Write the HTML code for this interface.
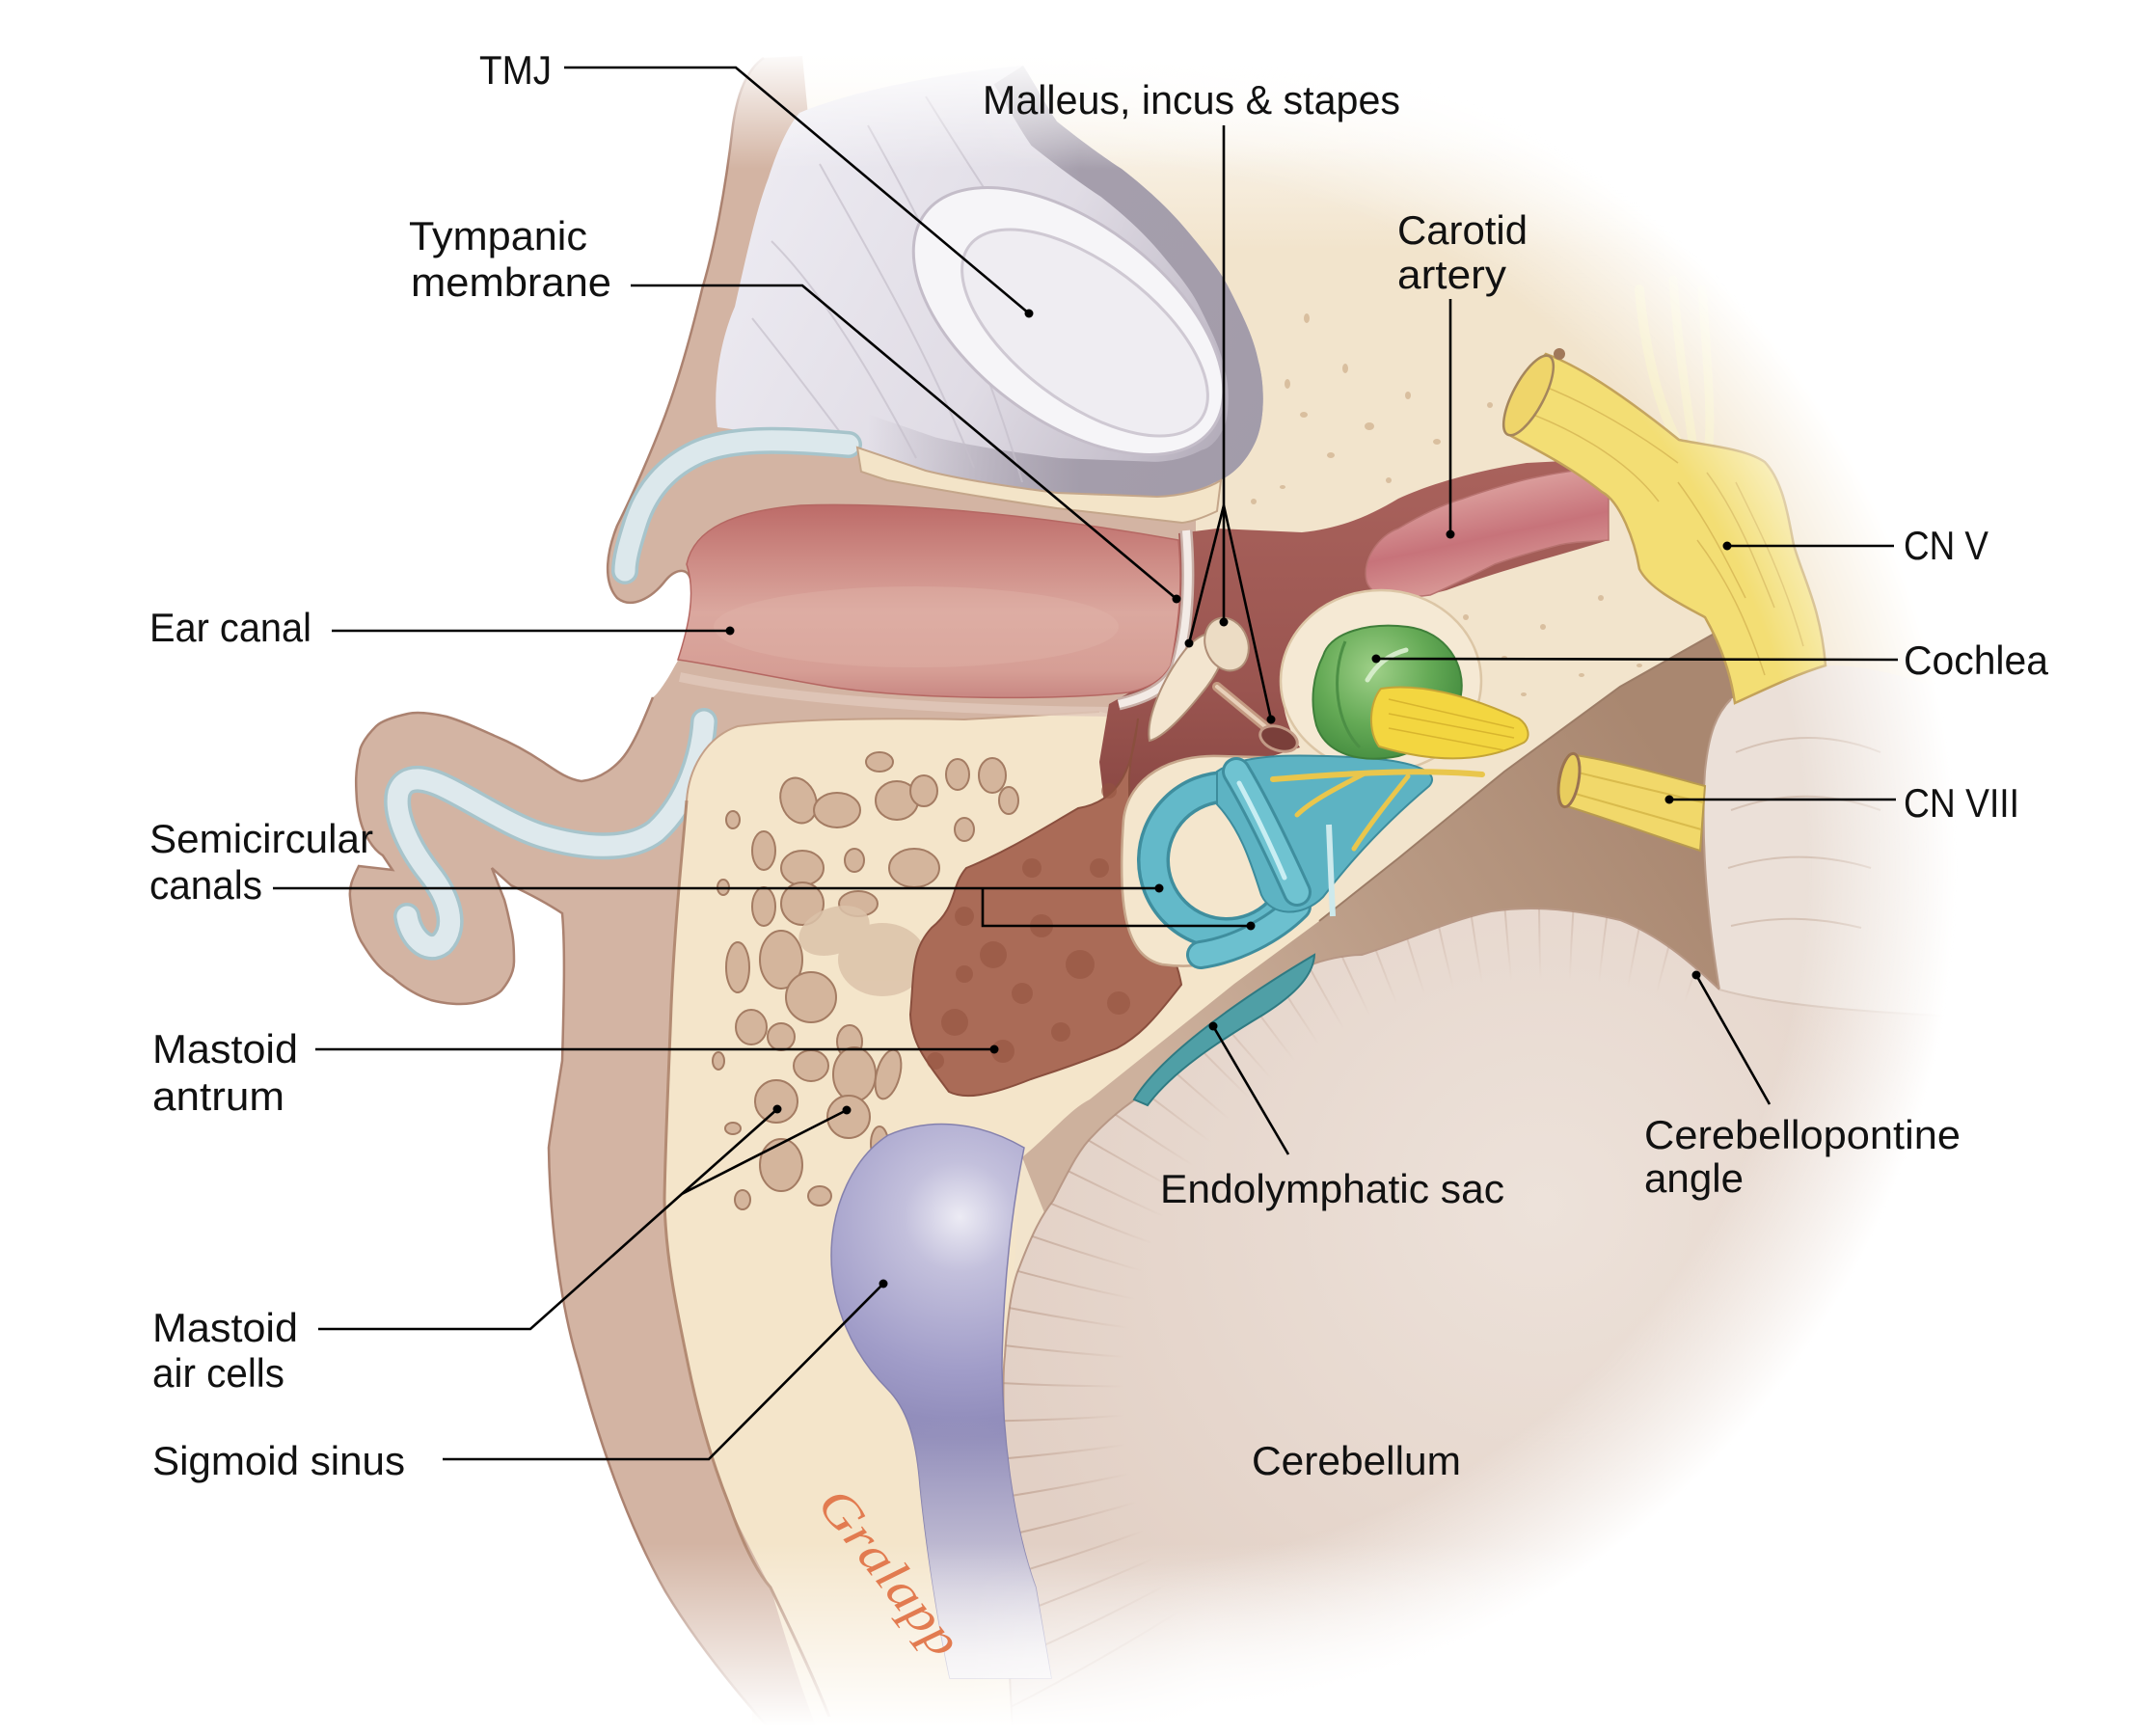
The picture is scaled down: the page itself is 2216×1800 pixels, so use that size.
<!DOCTYPE html>
<html>
<head>
<meta charset="utf-8">
<style>
html,body{margin:0;padding:0;background:#ffffff;}
svg{display:block;}
.lbl{font-family:"Liberation Sans",Arial,sans-serif;font-size:42px;fill:#111111;}
</style>
</head>
<body>
<svg width="2216" height="1800" viewBox="0 0 2216 1800" xmlns="http://www.w3.org/2000/svg">
<defs>
  <linearGradient id="creamG" gradientUnits="userSpaceOnUse" x1="0" y1="40" x2="0" y2="260">
    <stop offset="0" stop-color="#ffffff"/>
    <stop offset="1" stop-color="#f2e4cc"/>
  </linearGradient>
  <linearGradient id="grayG" gradientUnits="userSpaceOnUse" x1="780" y1="200" x2="1300" y2="480">
    <stop offset="0" stop-color="#eceaf1"/>
    <stop offset="0.5" stop-color="#e0dce5"/>
    <stop offset="0.8" stop-color="#c6c0cc"/>
    <stop offset="1" stop-color="#a9a2b0"/>
  </linearGradient>
  <linearGradient id="rimG" gradientUnits="userSpaceOnUse" x1="900" y1="0" x2="1120" y2="0">
    <stop offset="0" stop-color="#a29ba9" stop-opacity="0"/>
    <stop offset="1" stop-color="#a29ba9" stop-opacity="0.95"/>
  </linearGradient>
  <clipPath id="grayClip">
    <path d="M 744 443 C 738 400, 748 350, 762 318 C 775 260, 785 215, 797 184 C 808 150, 818 130, 829 117 C 880 95, 980 75, 1061 68 C 1075 90, 1085 110, 1096 126 C 1120 145, 1140 160, 1163 175 C 1195 200, 1215 220, 1230 238 C 1250 262, 1265 280, 1275 300 C 1290 330, 1300 350, 1305 375 C 1312 400, 1312 440, 1300 462 C 1290 482, 1275 495, 1260 500 C 1240 510, 1220 514, 1200 515 L 1096 511 C 1050 505, 1000 498, 960 488 L 887 463 Z"/>
  </clipPath>
  <linearGradient id="canalG" gradientUnits="userSpaceOnUse" x1="0" y1="525" x2="0" y2="726">
    <stop offset="0" stop-color="#bd6c69"/>
    <stop offset="0.25" stop-color="#cc8882"/>
    <stop offset="0.55" stop-color="#dba89f"/>
    <stop offset="0.85" stop-color="#d69e95"/>
    <stop offset="1" stop-color="#c78581"/>
  </linearGradient>
  <linearGradient id="meG" gradientUnits="userSpaceOnUse" x1="0" y1="480" x2="0" y2="870">
    <stop offset="0" stop-color="#a9625c"/>
    <stop offset="0.6" stop-color="#9a5550"/>
    <stop offset="1" stop-color="#864440"/>
  </linearGradient>
  <linearGradient id="carG" gradientUnits="userSpaceOnUse" x1="1500" y1="505" x2="1525" y2="622">
    <stop offset="0" stop-color="#dea4a1"/>
    <stop offset="0.5" stop-color="#c7737a"/>
    <stop offset="1" stop-color="#dda29d"/>
  </linearGradient>
  <linearGradient id="duraG" gradientUnits="userSpaceOnUse" x1="1200" y1="1120" x2="1720" y2="780">
    <stop offset="0" stop-color="#cdb19d"/>
    <stop offset="0.5" stop-color="#b99a84"/>
    <stop offset="1" stop-color="#a98770"/>
  </linearGradient>
  <radialGradient id="sinusG" gradientUnits="userSpaceOnUse" cx="995" cy="1262" r="230">
    <stop offset="0" stop-color="#ecebf4"/>
    <stop offset="0.25" stop-color="#c3c0dc"/>
    <stop offset="0.7" stop-color="#a09cc8"/>
    <stop offset="1" stop-color="#8d89b8"/>
  </radialGradient>
  <linearGradient id="sinusFade" gradientUnits="userSpaceOnUse" x1="0" y1="1470" x2="0" y2="1720">
    <stop offset="0" stop-color="#f1ecec" stop-opacity="0"/>
    <stop offset="1" stop-color="#f1ecec" stop-opacity="0.9"/>
  </linearGradient>
  <clipPath id="sinusClip">
    <path d="M 921 1177 C 960 1160, 1010 1160, 1062 1190 C 1050 1250, 1040 1330, 1039 1417 C 1040 1490, 1050 1580, 1074 1646 L 1090 1740 L 985 1740 C 972 1680, 960 1600, 954 1540 C 950 1490, 940 1460, 920 1440 C 885 1405, 862 1355, 862 1302 C 862 1250, 885 1200, 921 1177 Z"/>
  </clipPath>
  <radialGradient id="cochG" gradientUnits="userSpaceOnUse" cx="1425" cy="695" r="95">
    <stop offset="0" stop-color="#9fd088"/>
    <stop offset="0.6" stop-color="#65aa56"/>
    <stop offset="1" stop-color="#478f41"/>
  </radialGradient>
  <radialGradient id="cereG" gradientUnits="userSpaceOnUse" cx="1600" cy="1250" r="600">
    <stop offset="0" stop-color="#ede2da"/>
    <stop offset="1" stop-color="#e2d0c5"/>
  </radialGradient>
  <radialGradient id="rayG" gradientUnits="userSpaceOnUse" cx="0" cy="0" r="640">
    <stop offset="0.68" stop-color="#b08c79" stop-opacity="0"/>
    <stop offset="0.86" stop-color="#b08c79" stop-opacity="0.5"/>
    <stop offset="1" stop-color="#a8826e" stop-opacity="0.65"/>
  </radialGradient>
  <clipPath id="cereClip">
    <path d="M 1050 1795 C 1045 1700, 1040 1600, 1042 1520 C 1040 1460, 1040 1420, 1042 1406 C 1045 1360, 1050 1330, 1057 1314 C 1070 1280, 1080 1260, 1092 1245 C 1110 1210, 1120 1190, 1134 1177 C 1150 1160, 1165 1148, 1180 1138 C 1220 1110, 1250 1085, 1279 1066 C 1310 1040, 1335 1015, 1363 999 C 1380 993, 1400 990, 1412 990 C 1460 975, 1500 955, 1546 945 C 1580 940, 1620 940, 1680 954 C 1720 970, 1750 995, 1783 1026 L 1800 1040 L 2216 1060 L 2216 1795 Z"/>
  </clipPath>
  <radialGradient id="fadeR" gradientUnits="userSpaceOnUse" cx="1150" cy="900" r="880">
    <stop offset="0.82" stop-color="#ffffff" stop-opacity="0"/>
    <stop offset="1" stop-color="#ffffff" stop-opacity="1"/>
  </radialGradient>
  <linearGradient id="rampX" gradientUnits="userSpaceOnUse" x1="1000" y1="0" x2="1250" y2="0">
    <stop offset="0" stop-color="#000000"/>
    <stop offset="1" stop-color="#ffffff"/>
  </linearGradient>
  <mask id="rampMask" maskUnits="userSpaceOnUse" x="0" y="0" width="2216" height="1800">
    <rect x="0" y="0" width="2216" height="1800" fill="url(#rampX)"/>
  </mask>
  <linearGradient id="fadeB" gradientUnits="userSpaceOnUse" x1="0" y1="1600" x2="0" y2="1790">
    <stop offset="0" stop-color="#ffffff" stop-opacity="0"/>
    <stop offset="1" stop-color="#ffffff" stop-opacity="1"/>
  </linearGradient>
  <linearGradient id="fadeT" gradientUnits="userSpaceOnUse" x1="0" y1="50" x2="0" y2="175">
    <stop offset="0" stop-color="#ffffff" stop-opacity="1"/>
    <stop offset="1" stop-color="#ffffff" stop-opacity="0"/>
  </linearGradient>
</defs>

<!-- base cream -->
<rect x="780" y="30" width="1436" height="1770" fill="url(#creamG)"/>

<!-- stipple on cream -->
<g fill="#d9bf9f">
  <ellipse cx="1335" cy="398" rx="3" ry="5"/><ellipse cx="1352" cy="430" rx="4" ry="3"/>
  <ellipse cx="1395" cy="382" rx="3" ry="5"/><ellipse cx="1420" cy="442" rx="5" ry="4"/>
  <ellipse cx="1460" cy="410" rx="3" ry="4"/><ellipse cx="1490" cy="458" rx="4" ry="3"/>
  <ellipse cx="1545" cy="420" rx="3" ry="3"/><ellipse cx="1355" cy="330" rx="3" ry="5"/>
  <ellipse cx="1440" cy="498" rx="3" ry="3"/><ellipse cx="1380" cy="472" rx="4" ry="3"/>
  <ellipse cx="1300" cy="520" rx="3" ry="3"/><ellipse cx="1330" cy="505" rx="3" ry="2"/>
  <ellipse cx="1480" cy="662" rx="3" ry="2"/><ellipse cx="1520" cy="640" rx="3" ry="3"/>
  <ellipse cx="1560" cy="682" rx="3" ry="2"/><ellipse cx="1600" cy="650" rx="3" ry="3"/>
  <ellipse cx="1640" cy="700" rx="3" ry="2"/><ellipse cx="1620" cy="760" rx="2" ry="3"/>
  <ellipse cx="1580" cy="720" rx="3" ry="2"/><ellipse cx="1700" cy="690" rx="3" ry="2"/>
  <ellipse cx="1660" cy="620" rx="3" ry="3"/><ellipse cx="1540" cy="740" rx="3" ry="2"/>
</g>

<!-- skin / soft tissue -->
<path fill="#d3b4a3" d="M 832 58 L 792 60 C 775 72, 765 95, 760 130 C 752 200, 740 260, 728 300 C 716 350, 704 392, 690 430 C 675 470, 655 515, 640 545 C 630 570, 624 602, 640 620 C 655 632, 676 620, 690 602 C 700 590, 712 588, 716 600 C 722 630, 716 665, 700 690 C 692 705, 682 720, 677 723 C 668 745, 660 765, 650 780 C 640 795, 622 808, 603 810 C 588 808, 575 798, 563 790 C 545 778, 530 770, 513 763 C 495 755, 480 748, 463 743 C 445 739, 432 738, 423 740 C 405 744, 395 748, 390 753 C 378 765, 373 775, 373 780 C 368 800, 369 815, 370 830 C 372 850, 376 860, 380 867 C 386 878, 392 884, 397 887 L 407 902 L 372 898 C 365 912, 362 920, 363 930 C 365 955, 370 970, 377 980 C 388 998, 398 1008, 407 1013 C 420 1025, 435 1033, 447 1037 C 462 1041, 478 1042, 490 1040 C 505 1037, 515 1032, 520 1027 C 530 1015, 533 1005, 533 997 C 533 980, 532 970, 530 963 C 527 948, 525 940, 523 933 L 510 900 L 530 918 C 545 925, 565 935, 583 947 C 586 980, 585 1030, 583 1100 C 575 1150, 570 1180, 569 1190 C 570 1260, 580 1350, 600 1415 C 620 1490, 650 1580, 690 1650 C 720 1700, 760 1750, 800 1795 L 960 1795 L 960 760 L 1240 760 L 1240 465 L 900 465 L 838 120 Z"/>
<path fill="none" stroke="#ab8270" stroke-width="2.5" d="M 792 60 C 775 72, 765 95, 760 130 C 752 200, 740 260, 728 300 C 716 350, 704 392, 690 430 C 675 470, 655 515, 640 545 C 630 570, 624 602, 640 620 C 655 632, 676 620, 690 602 C 700 590, 712 588, 716 600 M 677 723 C 668 745, 660 765, 650 780 C 640 795, 622 808, 603 810 C 588 808, 575 798, 563 790 C 545 778, 530 770, 513 763 C 495 755, 480 748, 463 743 C 445 739, 432 738, 423 740 C 405 744, 395 748, 390 753 C 378 765, 373 775, 373 780 C 368 800, 369 815, 370 830 C 372 850, 376 860, 380 867 C 386 878, 392 884, 397 887 L 407 902 L 372 898 C 365 912, 362 920, 363 930 C 365 955, 370 970, 377 980 C 388 998, 398 1008, 407 1013 C 420 1025, 435 1033, 447 1037 C 462 1041, 478 1042, 490 1040 C 505 1037, 515 1032, 520 1027 C 530 1015, 533 1005, 533 997 C 533 980, 532 970, 530 963 C 527 948, 525 940, 523 933 L 510 900 L 530 918 C 545 925, 565 935, 583 947 C 586 980, 585 1030, 583 1100 C 575 1150, 570 1180, 569 1190 C 570 1260, 580 1350, 600 1415 C 620 1490, 650 1580, 690 1650 C 720 1700, 760 1750, 800 1795"/>

<!-- lobe cartilage -->
<path fill="none" stroke="#a7c4cb" stroke-width="28" stroke-linecap="round" stroke-linejoin="round" d="M 730 748 C 728 780, 715 830, 680 862 C 650 885, 600 878, 563 867 C 530 857, 490 830, 463 817 C 445 808, 420 800, 413 822 C 408 845, 425 880, 445 905 C 465 930, 475 960, 458 978 C 442 990, 425 970, 422 950"/>
<path fill="none" stroke="#dee9ed" stroke-width="21" stroke-linecap="round" stroke-linejoin="round" d="M 730 748 C 728 780, 715 830, 680 862 C 650 885, 600 878, 563 867 C 530 857, 490 830, 463 817 C 445 808, 420 800, 413 822 C 408 845, 425 880, 445 905 C 465 930, 475 960, 458 978 C 442 990, 425 970, 422 950"/>

<!-- TMJ gray region -->
<path fill="url(#grayG)" d="M 744 443 C 738 400, 748 350, 762 318 C 775 260, 785 215, 797 184 C 808 150, 818 130, 829 117 C 880 95, 980 75, 1061 68 C 1075 90, 1085 110, 1096 126 C 1120 145, 1140 160, 1163 175 C 1195 200, 1215 220, 1230 238 C 1250 262, 1265 280, 1275 300 C 1290 330, 1300 350, 1305 375 C 1312 400, 1312 440, 1300 462 C 1290 482, 1275 495, 1260 500 C 1240 510, 1220 514, 1200 515 L 1096 511 C 1050 505, 1000 498, 960 488 L 887 463 Z"/>
<g clip-path="url(#grayClip)">
  <path fill="none" stroke="url(#rimG)" stroke-width="72" d="M 1061 68 C 1075 90, 1085 110, 1096 126 C 1120 145, 1140 160, 1163 175 C 1195 200, 1215 220, 1230 238 C 1250 262, 1265 280, 1275 300 C 1290 330, 1300 350, 1305 375 C 1312 400, 1312 440, 1300 462 C 1290 482, 1275 495, 1260 500 C 1240 510, 1220 514, 1200 515 L 1096 511 C 1050 505, 1000 498, 960 488 L 887 463"/>
  <g fill="none" stroke="#c5bfca" stroke-width="2" opacity="0.7">
    <path d="M 800 250 C 850 300, 900 380, 950 475"/>
    <path d="M 850 170 C 900 260, 960 360, 1010 485"/>
    <path d="M 780 330 C 820 380, 850 420, 880 460"/>
    <path d="M 900 130 C 950 220, 1010 330, 1060 500"/>
    <path d="M 960 100 C 1010 180, 1060 260, 1120 330"/>
  </g>
</g>
<ellipse cx="1108" cy="333" rx="186" ry="102" transform="rotate(37 1108 333)" fill="#f6f5f8" stroke="#c4bdc9" stroke-width="3"/>
<ellipse cx="1125" cy="345" rx="150" ry="72" transform="rotate(37 1125 345)" fill="#efedf2" stroke="#cfc9d3" stroke-width="3"/>

<!-- upper cartilage -->
<path fill="none" stroke="#a7c4cb" stroke-width="28" stroke-linecap="round" d="M 880 461 C 820 456, 760 452, 722 470 C 690 485, 670 510, 660 540 C 652 565, 648 580, 648 592"/>
<path fill="none" stroke="#dce8ec" stroke-width="21" stroke-linecap="round" d="M 880 461 C 820 456, 760 452, 722 470 C 690 485, 670 510, 660 540 C 652 565, 648 580, 648 592"/>

<!-- bone strip under TMJ -->
<path fill="#f3e4c8" stroke="#c4a68a" stroke-width="2" d="M 889 464 L 960 488 C 1000 498, 1050 505, 1096 511 L 1200 515 C 1225 514, 1250 508, 1266 498 L 1262 530 C 1245 538, 1235 541, 1226 542 L 1096 527 C 1040 519, 980 509, 920 498 L 893 489 Z"/>

<!-- mastoid bone -->
<path fill="#f4e5ca" d="M 712 830 C 714 800, 730 765, 765 753 C 820 746, 900 744, 1000 746 L 1140 738 L 1200 750 L 1360 790 L 1380 960 L 1060 1200 L 1046 1400 L 1074 1646 L 1095 1800 L 850 1800 C 830 1750, 815 1700, 799 1646 C 775 1600, 760 1570, 756 1560 C 735 1500, 718 1450, 714 1417 C 700 1350, 690 1300, 689 1244 C 690 1180, 694 1100, 696 1043 C 700 950, 708 880, 712 830 Z"/>
<path fill="none" stroke="#b38b73" stroke-width="3" d="M 712 830 C 708 880, 700 950, 696 1043 C 694 1100, 690 1180, 689 1244 C 690 1300, 700 1350, 714 1417 C 725 1470, 740 1520, 756 1560 C 770 1600, 785 1630, 799 1646 C 820 1690, 840 1730, 860 1780"/>
<path fill="none" stroke="#c4a088" stroke-width="2" d="M 712 830 C 714 800, 730 765, 765 753 C 820 746, 900 744, 1000 746 L 1140 738"/>
<path fill="none" stroke="#e1c8ba" stroke-width="10" opacity="0.8" d="M 705 702 C 800 722, 950 736, 1150 738"/>

<!-- mastoid air cells -->
<g fill="#d4b59c" stroke="#a47c63" stroke-width="2">
  <ellipse cx="912" cy="790" rx="14" ry="10"/>
  <ellipse cx="828" cy="830" rx="18" ry="24" transform="rotate(-20 828 830)"/>
  <ellipse cx="868" cy="840" rx="24" ry="18"/>
  <ellipse cx="930" cy="830" rx="22" ry="20"/>
  <ellipse cx="958" cy="820" rx="14" ry="16"/>
  <ellipse cx="993" cy="803" rx="12" ry="16"/>
  <ellipse cx="1029" cy="804" rx="14" ry="18"/>
  <ellipse cx="1046" cy="830" rx="10" ry="14"/>
  <ellipse cx="792" cy="882" rx="12" ry="20"/>
  <ellipse cx="832" cy="900" rx="22" ry="18"/>
  <ellipse cx="886" cy="892" rx="10" ry="12"/>
  <ellipse cx="948" cy="900" rx="26" ry="20"/>
  <ellipse cx="792" cy="940" rx="12" ry="20"/>
  <ellipse cx="832" cy="937" rx="22" ry="22"/>
  <ellipse cx="890" cy="937" rx="20" ry="13"/>
  <ellipse cx="765" cy="1003" rx="12" ry="26"/>
  <ellipse cx="810" cy="995" rx="22" ry="30"/>
  <ellipse cx="841" cy="1034" rx="26" ry="26"/>
  <ellipse cx="779" cy="1065" rx="16" ry="18"/>
  <ellipse cx="810" cy="1075" rx="14" ry="14"/>
  <ellipse cx="881" cy="1080" rx="13" ry="17"/>
  <ellipse cx="841" cy="1105" rx="18" ry="16"/>
  <ellipse cx="886" cy="1114" rx="22" ry="28"/>
  <ellipse cx="805" cy="1142" rx="22" ry="22"/>
  <ellipse cx="921" cy="1114" rx="12" ry="26" transform="rotate(15 921 1114)"/>
  <ellipse cx="810" cy="1208" rx="22" ry="27"/>
  <ellipse cx="880" cy="1158" rx="22" ry="22"/>
  <ellipse cx="912" cy="1186" rx="9" ry="18"/>
  <ellipse cx="770" cy="1244" rx="8" ry="10"/>
  <ellipse cx="760" cy="850" rx="7" ry="9"/>
  <ellipse cx="750" cy="920" rx="6" ry="8"/>
  <ellipse cx="745" cy="1100" rx="6" ry="9"/>
  <ellipse cx="760" cy="1170" rx="8" ry="6"/>
  <ellipse cx="850" cy="1240" rx="12" ry="10"/>
  <ellipse cx="1000" cy="860" rx="10" ry="12"/>
</g>
<g fill="#dcc3aa" opacity="0.85">
  <ellipse cx="865" cy="965" rx="38" ry="24" transform="rotate(-20 865 965)"/>
  <ellipse cx="915" cy="995" rx="46" ry="38"/>
</g>

<!-- middle ear -->
<path fill="url(#meG)" d="M 1222 553 L 1262 548 L 1350 552 C 1390 548, 1420 535, 1450 517 C 1480 503, 1530 488, 1583 480 L 1662 476 L 1668 560 C 1620 575, 1560 590, 1500 612 C 1450 625, 1400 628, 1370 630 C 1350 650, 1336 680, 1330 717 C 1330 740, 1338 760, 1348 775 L 1300 790 C 1250 800, 1215 830, 1195 860 L 1150 875 L 1140 790 L 1150 730 L 1175 716 C 1195 712, 1210 705, 1214 690 C 1222 650, 1226 600, 1222 553 Z"/>

<!-- ear canal -->
<path fill="url(#canalG)" stroke="#b56762" stroke-width="1.5" d="M 712 585 C 720 548, 760 530, 830 524 C 950 520, 1100 538, 1222 560 C 1226 600, 1224 640, 1214 690 C 1205 706, 1190 714, 1170 718 C 1100 726, 950 726, 860 712 C 800 702, 745 690, 703 684 C 714 650, 722 615, 712 585 Z"/>
<ellipse cx="950" cy="650" rx="210" ry="42" fill="#e3b6ad" opacity="0.35"/>

<!-- tympanic membrane -->
<path fill="none" stroke="#c9b0a8" stroke-width="13" d="M 1230 550 C 1234 600, 1232 650, 1220 692 C 1210 714, 1186 724, 1160 730"/>
<path fill="none" stroke="#f3ebe6" stroke-width="8" d="M 1230 550 C 1234 600, 1232 650, 1220 692 C 1210 714, 1186 724, 1160 730"/>

<!-- ossicles -->
<path fill="none" stroke="#c49a82" stroke-width="10" stroke-linecap="round" d="M 1262 712 L 1320 760"/>
<path fill="none" stroke="#e8d0b9" stroke-width="4" stroke-linecap="round" d="M 1262 712 L 1320 760"/>
<ellipse cx="1326" cy="766" rx="20" ry="12" transform="rotate(20 1326 766)" fill="#7a3f3a" stroke="#c29a86" stroke-width="3"/>
<path fill="#f3e5cf" stroke="#b08f78" stroke-width="2" d="M 1192 768 C 1188 745, 1205 705, 1228 675 C 1240 660, 1258 650, 1268 660 C 1275 675, 1262 700, 1245 720 C 1225 745, 1205 765, 1192 768 Z"/>
<ellipse cx="1272" cy="668" rx="22" ry="28" transform="rotate(-20 1272 668)" fill="#ecdcc4" stroke="#b08f78" stroke-width="2"/>

<!-- carotid -->
<path fill="url(#carG)" stroke="#b7726f" stroke-width="1.5" d="M 1417 602 C 1412 580, 1430 555, 1450 548 C 1480 530, 1500 522, 1517 517 C 1550 505, 1583 497, 1583 497 C 1615 490, 1640 486, 1668 485 L 1668 560 C 1640 562, 1630 562, 1617 565 C 1590 572, 1570 578, 1550 585 C 1520 600, 1500 610, 1483 617 C 1460 620, 1440 620, 1430 617 C 1422 612, 1418 607, 1417 602 Z"/>

<!-- petrous capsule -->
<ellipse cx="1432" cy="706" rx="104" ry="94" fill="#f5e9d4" stroke="#dcc6a6" stroke-width="2.5"/>

<!-- dura -->
<path fill="url(#duraG)" d="M 1368 955 L 1450 890 L 1560 800 L 1680 712 L 1790 650 L 1800 700 L 1795 1100 L 1100 1300 L 1060 1200 C 1090 1175, 1110 1150, 1130 1140 L 1190 1092 L 1280 1020 Z"/>
<path fill="none" stroke="#9c7c66" stroke-width="2" d="M 1368 955 L 1450 890 L 1560 800 L 1680 712 L 1790 650"/>

<!-- pons (behind cerebellum) -->
<path fill="#ebe0d8" d="M 1783 1026 C 1772 960, 1763 880, 1768 800 C 1772 760, 1780 740, 1795 725 C 1830 700, 1870 690, 1905 690 C 1940 692, 1970 700, 2000 710 L 2216 720 L 2216 1100 L 1790 1100 Z"/>
<path fill="none" stroke="#b99b88" stroke-width="2" d="M 1783 1026 C 1772 960, 1763 880, 1768 800 C 1772 760, 1780 740, 1795 725"/>
<g fill="none" stroke="#d6c3b6" stroke-width="2">
  <path d="M 1800 780 C 1850 760, 1900 760, 1950 780"/>
  <path d="M 1795 840 C 1850 820, 1900 822, 1950 840"/>
  <path d="M 1792 900 C 1840 885, 1890 885, 1940 900"/>
  <path d="M 1795 960 C 1840 950, 1880 950, 1930 962"/>
</g>

<!-- cerebellum -->
<path fill="url(#cereG)" d="M 1050 1795 C 1045 1700, 1040 1600, 1042 1520 C 1040 1460, 1040 1420, 1042 1406 C 1045 1360, 1050 1330, 1057 1314 C 1070 1280, 1080 1260, 1092 1245 C 1110 1210, 1120 1190, 1134 1177 C 1150 1160, 1165 1148, 1180 1138 C 1220 1110, 1250 1085, 1279 1066 C 1310 1040, 1335 1015, 1363 999 C 1380 993, 1400 990, 1412 990 C 1460 975, 1500 955, 1546 945 C 1580 940, 1620 940, 1680 954 C 1720 970, 1750 995, 1783 1026 C 1850 1045, 1950 1050, 2216 1060 L 2216 1795 Z"/>
<path fill="none" stroke="#b89886" stroke-width="2" d="M 1050 1795 C 1045 1700, 1040 1600, 1042 1520 C 1040 1460, 1040 1420, 1042 1406 C 1045 1360, 1050 1330, 1057 1314 C 1070 1280, 1080 1260, 1092 1245 C 1110 1210, 1120 1190, 1134 1177 C 1150 1160, 1165 1148, 1180 1138 C 1220 1110, 1250 1085, 1279 1066 C 1310 1040, 1335 1015, 1363 999 C 1380 993, 1400 990, 1412 990 C 1460 975, 1500 955, 1546 945 C 1580 940, 1620 940, 1680 954 C 1720 970, 1750 995, 1783 1026"/>
<path fill="none" stroke="#d8c6ba" stroke-width="2" d="M 1783 1026 C 1850 1045, 1950 1050, 2100 1058"/>
<g clip-path="url(#cereClip)" fill="none" stroke="url(#rayG)" stroke-width="2">
  <path d="M380 0Q520 -8 660 0" transform="translate(1600 1450) rotate(150)"/>
  <path d="M380 0Q520 -8 660 0" transform="translate(1600 1450) rotate(154)"/>
  <path d="M380 0Q520 -8 660 0" transform="translate(1600 1450) rotate(158)"/>
  <path d="M380 0Q520 -8 660 0" transform="translate(1600 1450) rotate(162)"/>
  <path d="M380 0Q520 -8 660 0" transform="translate(1600 1450) rotate(166)"/>
  <path d="M380 0Q520 -8 660 0" transform="translate(1600 1450) rotate(170)"/>
  <path d="M380 0Q520 -8 660 0" transform="translate(1600 1450) rotate(174)"/>
  <path d="M380 0Q520 -8 660 0" transform="translate(1600 1450) rotate(178)"/>
  <path d="M380 0Q520 -8 660 0" transform="translate(1600 1450) rotate(182)"/>
  <path d="M380 0Q520 -8 660 0" transform="translate(1600 1450) rotate(186)"/>
  <path d="M380 0Q520 -8 660 0" transform="translate(1600 1450) rotate(190)"/>
  <path d="M380 0Q520 -8 660 0" transform="translate(1600 1450) rotate(194)"/>
  <path d="M380 0Q520 -8 660 0" transform="translate(1600 1450) rotate(198)"/>
  <path d="M380 0Q520 -8 660 0" transform="translate(1600 1450) rotate(202)"/>
  <path d="M380 0Q520 -8 660 0" transform="translate(1600 1450) rotate(206)"/>
  <path d="M380 0Q520 -8 660 0" transform="translate(1600 1450) rotate(210)"/>
  <path d="M380 0Q520 -8 660 0" transform="translate(1600 1450) rotate(214)"/>
  <path d="M380 0Q520 -8 660 0" transform="translate(1600 1450) rotate(218)"/>
  <path d="M380 0Q520 -8 660 0" transform="translate(1600 1450) rotate(222)"/>
  <path d="M380 0Q520 -8 660 0" transform="translate(1600 1450) rotate(226)"/>
  <path d="M380 0Q520 -8 660 0" transform="translate(1600 1450) rotate(230)"/>
  <path d="M380 0Q520 -8 660 0" transform="translate(1600 1450) rotate(234)"/>
  <path d="M380 0Q520 -8 660 0" transform="translate(1600 1450) rotate(238)"/>
  <path d="M380 0Q520 -8 660 0" transform="translate(1600 1450) rotate(242)"/>
  <path d="M380 0Q520 -8 660 0" transform="translate(1600 1450) rotate(246)"/>
  <path d="M380 0Q520 -8 660 0" transform="translate(1600 1450) rotate(250)"/>
  <path d="M380 0Q520 -8 660 0" transform="translate(1600 1450) rotate(254)"/>
  <path d="M380 0Q520 -8 660 0" transform="translate(1600 1450) rotate(258)"/>
  <path d="M380 0Q520 -8 660 0" transform="translate(1600 1450) rotate(262)"/>
  <path d="M380 0Q520 -8 660 0" transform="translate(1600 1450) rotate(266)"/>
  <path d="M380 0Q520 -8 660 0" transform="translate(1600 1450) rotate(270)"/>
  <path d="M380 0Q520 -8 660 0" transform="translate(1600 1450) rotate(274)"/>
  <path d="M380 0Q520 -8 660 0" transform="translate(1600 1450) rotate(278)"/>
  <path d="M380 0Q520 -8 660 0" transform="translate(1600 1450) rotate(282)"/>
  <path d="M380 0Q520 -8 660 0" transform="translate(1600 1450) rotate(286)"/>
  <path d="M380 0Q520 -8 660 0" transform="translate(1600 1450) rotate(290)"/>
</g>

<!-- sigmoid sinus -->
<path fill="url(#sinusG)" stroke="#8480ad" stroke-width="1.5" d="M 921 1177 C 960 1160, 1010 1160, 1062 1190 C 1050 1250, 1040 1330, 1039 1417 C 1040 1490, 1050 1580, 1074 1646 L 1090 1740 L 985 1740 C 972 1680, 960 1600, 954 1540 C 950 1490, 940 1460, 920 1440 C 885 1405, 862 1355, 862 1302 C 862 1250, 885 1200, 921 1177 Z"/>
<rect x="850" y="1450" width="260" height="300" fill="url(#sinusFade)" clip-path="url(#sinusClip)"/>

<!-- endolymphatic sac -->
<path fill="#4f9fa6" stroke="#2f7a82" stroke-width="2" d="M 1176 1140 C 1200 1100, 1270 1045, 1363 990 C 1362 1010, 1345 1030, 1310 1052 C 1260 1082, 1215 1112, 1190 1146 Z"/>

<!-- antrum -->
<path fill="#aa6b57" stroke="#8a4f3e" stroke-width="2" d="M 1180 745 C 1175 790, 1165 830, 1118 838 C 1080 860, 1046 882, 1002 900 C 985 920, 993 940, 966 962 C 945 985, 948 1007, 944 1052 C 945 1080, 957 1096, 984 1132 C 1000 1140, 1024 1137, 1069 1119 C 1090 1112, 1113 1105, 1158 1087 C 1180 1075, 1194 1061, 1225 1021 C 1220 990, 1203 962, 1180 918 C 1175 880, 1171 873, 1171 806 C 1172 780, 1180 753, 1180 745 Z"/>
<g fill="#93533f" opacity="0.55">
  <circle cx="1000" cy="950" r="10"/><circle cx="1030" cy="990" r="14"/><circle cx="1080" cy="960" r="12"/>
  <circle cx="1120" cy="1000" r="15"/><circle cx="1160" cy="1040" r="12"/><circle cx="990" cy="1060" r="14"/>
  <circle cx="1040" cy="1090" r="12"/><circle cx="1100" cy="1070" r="10"/><circle cx="1140" cy="900" r="10"/>
  <circle cx="1150" cy="820" r="8"/><circle cx="1070" cy="900" r="10"/><circle cx="1000" cy="1010" r="9"/>
  <circle cx="1190" cy="980" r="10"/><circle cx="1060" cy="1030" r="11"/><circle cx="970" cy="1100" r="9"/>
</g>

<!-- semicircular capsule -->
<path fill="#f4e6cd" stroke="#c7a78c" stroke-width="2.5" d="M 1165 850 C 1170 805, 1215 782, 1265 784 L 1345 786 C 1380 792, 1395 830, 1385 870 L 1360 935 C 1330 985, 1260 1008, 1205 1000 C 1170 992, 1158 950, 1165 850 Z"/>

<!-- teal canals -->
<circle cx="1272" cy="892" r="76" fill="none" stroke="#3f8e9e" stroke-width="34"/>
<circle cx="1272" cy="892" r="76" fill="none" stroke="#63b9c9" stroke-width="27"/>
<path fill="none" stroke="#3f8e9e" stroke-width="30" stroke-linecap="round" d="M 1245 990 C 1280 985, 1320 965, 1345 940"/>
<path fill="none" stroke="#6cc0cf" stroke-width="24" stroke-linecap="round" d="M 1245 990 C 1280 985, 1320 965, 1345 940"/>
<path fill="#5db3c3" stroke="#3d8c9c" stroke-width="2" d="M 1262 800 C 1290 780, 1350 782, 1420 786 C 1465 790, 1495 800, 1482 815 C 1450 842, 1410 880, 1372 930 C 1350 952, 1318 950, 1308 928 C 1298 898, 1288 862, 1262 834 Z"/>
<path fill="none" stroke="#3f8e9e" stroke-width="30" stroke-linecap="round" d="M 1282 800 C 1300 830, 1320 870, 1345 925"/>
<path fill="none" stroke="#6fc3d1" stroke-width="24" stroke-linecap="round" d="M 1282 800 C 1300 830, 1320 870, 1345 925"/>
<path fill="none" stroke="#c8eef3" stroke-width="5" stroke-linecap="round" d="M 1285 812 C 1300 840, 1315 870, 1332 910"/>
<path fill="none" stroke="#cde9ec" stroke-width="6" d="M 1378 855 L 1382 950"/>
<g fill="none" stroke="#e9c64c" stroke-linecap="round">
  <path stroke-width="6" d="M 1537 803 C 1480 798, 1420 800, 1320 808"/>
  <path stroke-width="5" d="M 1415 802 C 1390 815, 1360 830, 1345 845"/>
  <path stroke-width="5" d="M 1460 805 C 1440 830, 1420 855, 1404 880"/>
</g>

<!-- cochlea -->
<path fill="url(#cochG)" stroke="#3f7f3a" stroke-width="2" d="M 1372 680 C 1380 655, 1420 645, 1460 650 C 1500 655, 1520 690, 1515 720 C 1512 750, 1490 772, 1450 784 C 1410 792, 1375 782, 1365 752 C 1358 726, 1362 700, 1372 680 Z"/>
<path fill="none" stroke="#4c8f45" stroke-width="3" d="M 1395 665 C 1380 700, 1385 750, 1410 775"/>
<path fill="none" stroke="#d4ecc8" stroke-width="5" stroke-linecap="round" d="M 1418 705 C 1428 688, 1442 678, 1458 674"/>
<path fill="#f3d640" stroke="#c4a437" stroke-width="2" d="M 1432 714 C 1470 708, 1520 720, 1575 745 C 1585 752, 1588 765, 1580 770 C 1540 790, 1490 792, 1430 774 C 1418 758, 1420 728, 1432 714 Z"/>
<g fill="none" stroke="#d8b52e" stroke-width="1.5">
  <path d="M 1440 725 L 1570 755"/><path d="M 1440 740 L 1570 765"/><path d="M 1440 755 L 1560 778"/>
</g>

<!-- CN V -->
<path fill="none" stroke="#f6edc6" stroke-width="10" stroke-linecap="round" d="M 1700 300 C 1705 360, 1720 420, 1738 455"/>
<path fill="none" stroke="#f6edc6" stroke-width="9" stroke-linecap="round" d="M 1735 290 C 1740 360, 1750 420, 1755 458"/>
<path fill="none" stroke="#f6edc6" stroke-width="9" stroke-linecap="round" d="M 1765 300 C 1770 370, 1775 430, 1772 460"/>
<path fill="#f3de74" stroke="#c3a25a" stroke-width="2.5" d="M 1567 452 C 1575 420, 1590 380, 1603 367 C 1640 380, 1690 415, 1741 456 C 1770 462, 1810 465, 1830 479 C 1850 500, 1855 540, 1860 565 C 1870 600, 1888 630, 1893 690 C 1860 700, 1830 715, 1799 729 C 1795 700, 1785 670, 1768 640 C 1740 625, 1710 610, 1700 590 C 1695 560, 1680 520, 1661 510 C 1630 485, 1600 470, 1567 452 Z"/>
<g fill="none" stroke="#d6b654" stroke-width="1.5" opacity="0.8">
  <path d="M 1600 400 C 1650 420, 1700 450, 1740 480"/>
  <path d="M 1590 430 C 1640 450, 1690 480, 1720 520"/>
  <path d="M 1740 500 C 1770 540, 1790 580, 1810 620"/>
  <path d="M 1770 490 C 1800 530, 1820 580, 1840 630"/>
  <path d="M 1800 500 C 1825 550, 1850 600, 1870 670"/>
  <path d="M 1760 560 C 1790 600, 1810 640, 1830 700"/>
</g>
<ellipse cx="1585" cy="410" rx="16" ry="46" transform="rotate(28 1585 410)" fill="#efd56a" stroke="#a5865c" stroke-width="2.5"/>
<circle cx="1617" cy="367" r="6" fill="#a0785a"/>

<!-- CN VIII -->
<path fill="#f1d86a" stroke="#b89a4e" stroke-width="2" d="M 1628 782 C 1680 790, 1730 805, 1768 815 L 1763 882 C 1720 868, 1670 850, 1625 836 Z"/>
<path fill="none" stroke="#d9bb4c" stroke-width="2" d="M 1632 800 L 1766 832 M 1630 822 L 1764 860"/>
<ellipse cx="1627" cy="809" rx="10" ry="28" transform="rotate(10 1627 809)" fill="#e8cd5e" stroke="#9a7352" stroke-width="3"/>

<!-- fades -->
<rect x="0" y="0" width="2216" height="1800" fill="url(#fadeR)" mask="url(#rampMask)"/>
<rect x="0" y="1560" width="2216" height="240" fill="url(#fadeB)"/>
<rect x="600" y="0" width="1100" height="180" fill="url(#fadeT)"/>

<!-- signature -->
<text x="0" y="0" transform="translate(846 1560) rotate(52)" font-family="Liberation Serif, serif" font-style="italic" font-size="52" fill="#e27b50" textLength="205" lengthAdjust="spacingAndGlyphs">Gralapp</text>

<!-- leader lines -->
<g fill="none" stroke="#000" stroke-width="2.6">
  <polyline points="585,70 763,70 1067,325"/>
  <polyline points="654,296 832,296 1220,621"/>
  <polyline points="1269,130 1269,524"/>
  <polyline points="1269,524 1233,667"/>
  <polyline points="1269,524 1269,645"/>
  <polyline points="1269,524 1318,746"/>
  <polyline points="1504,310 1504,554"/>
  <polyline points="344,654 757,654"/>
  <polyline points="1964,566 1791,566"/>
  <polyline points="1968,684 1427,683"/>
  <polyline points="1966,829 1731,829"/>
  <polyline points="283,921 1202,921"/>
  <polyline points="1019,921 1019,960 1297,960"/>
  <polyline points="327,1088 1031,1088"/>
  <polyline points="330,1378 550,1378 707,1238 806,1150"/>
  <polyline points="707,1238 878,1151"/>
  <polyline points="459,1513 735,1513 916,1331"/>
  <polyline points="1336,1197 1258,1064"/>
  <polyline points="1835,1145 1759,1011"/>
</g>
<g fill="#000">
  <circle cx="1067" cy="325" r="4.5"/>
  <circle cx="1220" cy="621" r="4.5"/>
  <circle cx="1233" cy="667" r="4.5"/>
  <circle cx="1269" cy="645" r="4.5"/>
  <circle cx="1318" cy="746" r="4.5"/>
  <circle cx="1504" cy="554" r="4.5"/>
  <circle cx="757" cy="654" r="4.5"/>
  <circle cx="1791" cy="566" r="4.5"/>
  <circle cx="1427" cy="683" r="4.5"/>
  <circle cx="1731" cy="829" r="4.5"/>
  <circle cx="1202" cy="921" r="4.5"/>
  <circle cx="1297" cy="960" r="4.5"/>
  <circle cx="1031" cy="1088" r="4.5"/>
  <circle cx="806" cy="1150" r="4.5"/>
  <circle cx="878" cy="1151" r="4.5"/>
  <circle cx="916" cy="1331" r="4.5"/>
  <circle cx="1258" cy="1064" r="4.5"/>
  <circle cx="1759" cy="1011" r="4.5"/>
</g>

<!-- labels -->
<text class="lbl" x="497" y="87" textLength="75" lengthAdjust="spacingAndGlyphs">TMJ</text>
<text class="lbl" x="1019" y="118" textLength="433" lengthAdjust="spacingAndGlyphs">Malleus, incus &amp; stapes</text>
<text class="lbl" x="424" y="259" textLength="185" lengthAdjust="spacingAndGlyphs">Tympanic</text>
<text class="lbl" x="426" y="307" textLength="208" lengthAdjust="spacingAndGlyphs">membrane</text>
<text class="lbl" x="1449" y="253" textLength="135" lengthAdjust="spacingAndGlyphs">Carotid</text>
<text class="lbl" x="1449" y="299" textLength="113" lengthAdjust="spacingAndGlyphs">artery</text>
<text class="lbl" x="155" y="665" textLength="168" lengthAdjust="spacingAndGlyphs">Ear canal</text>
<text class="lbl" x="1974" y="580" textLength="88" lengthAdjust="spacingAndGlyphs">CN V</text>
<text class="lbl" x="1974" y="699" textLength="150" lengthAdjust="spacingAndGlyphs">Cochlea</text>
<text class="lbl" x="1974" y="847" textLength="120" lengthAdjust="spacingAndGlyphs">CN VIII</text>
<text class="lbl" x="155" y="884" textLength="232" lengthAdjust="spacingAndGlyphs">Semicircular</text>
<text class="lbl" x="155" y="932" textLength="117" lengthAdjust="spacingAndGlyphs">canals</text>
<text class="lbl" x="158" y="1102" textLength="151" lengthAdjust="spacingAndGlyphs">Mastoid</text>
<text class="lbl" x="158" y="1151" textLength="137" lengthAdjust="spacingAndGlyphs">antrum</text>
<text class="lbl" x="158" y="1391" textLength="151" lengthAdjust="spacingAndGlyphs">Mastoid</text>
<text class="lbl" x="158" y="1438" textLength="137" lengthAdjust="spacingAndGlyphs">air cells</text>
<text class="lbl" x="158" y="1529" textLength="262" lengthAdjust="spacingAndGlyphs">Sigmoid sinus</text>
<text class="lbl" x="1203" y="1247" textLength="357" lengthAdjust="spacingAndGlyphs">Endolymphatic sac</text>
<text class="lbl" x="1705" y="1191" textLength="328" lengthAdjust="spacingAndGlyphs">Cerebellopontine</text>
<text class="lbl" x="1705" y="1236" textLength="103" lengthAdjust="spacingAndGlyphs">angle</text>
<text class="lbl" x="1298" y="1529" textLength="217" lengthAdjust="spacingAndGlyphs">Cerebellum</text>
</svg>
</body>
</html>
